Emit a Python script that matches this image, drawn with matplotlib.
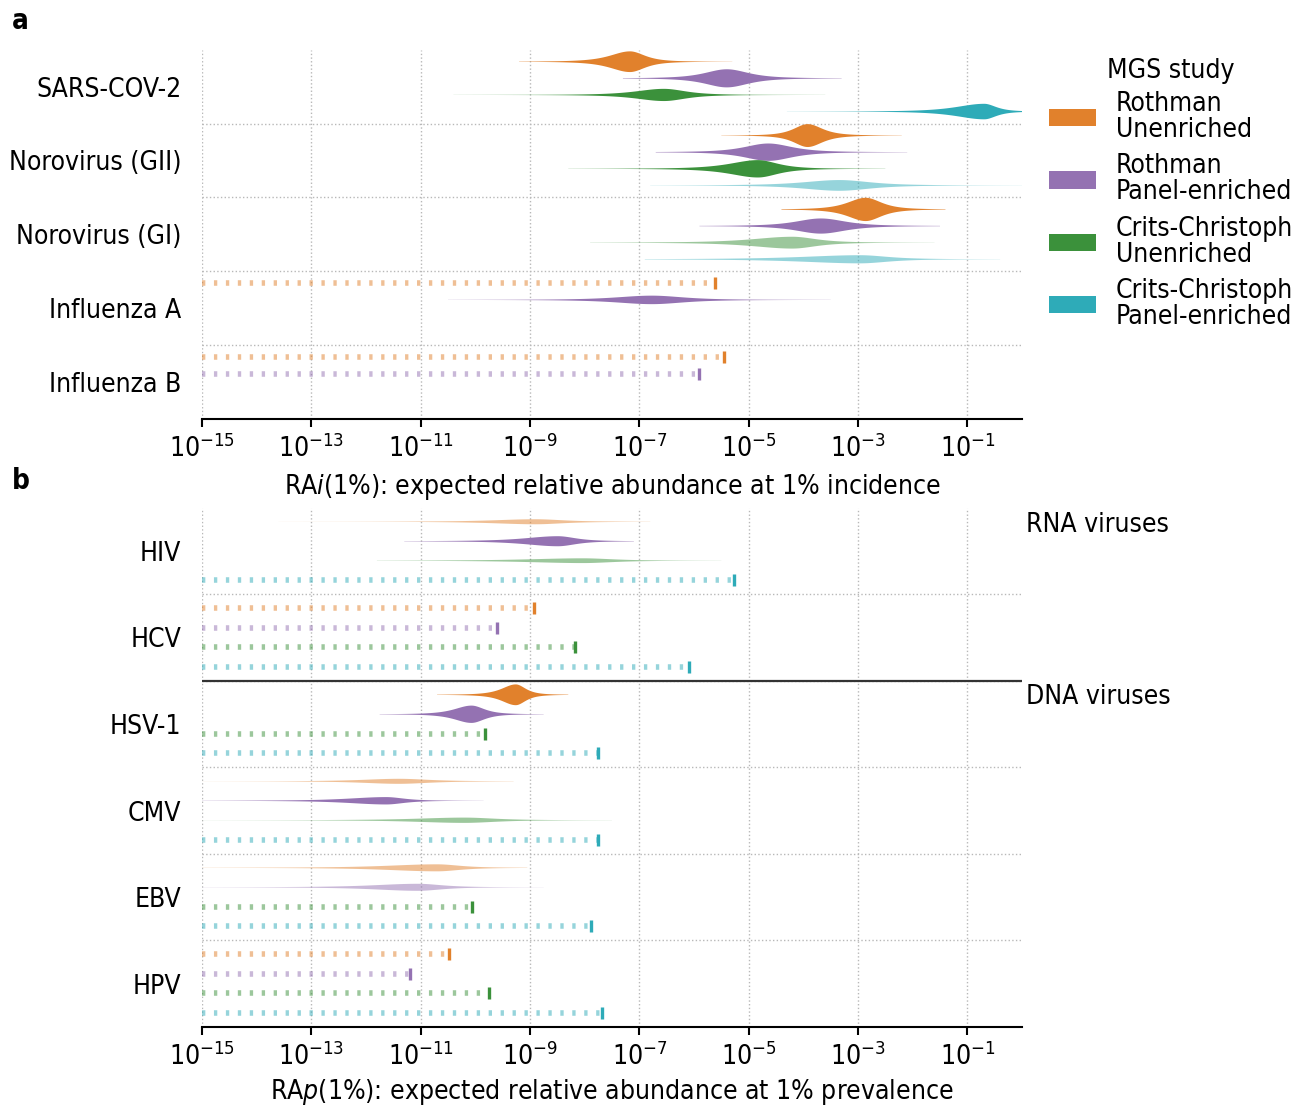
import numpy as np
import matplotlib
matplotlib.use('Agg')
import matplotlib.pyplot as plt
from matplotlib.patches import Patch

plt.rcParams['font.family'] = ['DejaVu Sans Condensed', 'DejaVu Sans']
plt.rcParams['font.stretch'] = 'condensed'
plt.rcParams['mathtext.fontset'] = 'custom'
plt.rcParams['mathtext.rm'] = 'DejaVu Sans Condensed'
plt.rcParams['mathtext.it'] = 'DejaVu Sans Condensed:italic'
plt.rcParams['mathtext.bf'] = 'DejaVu Sans Condensed:bold'
FS = 19

studies = ['Rothman\nUnenriched', 'Rothman\nPanel-enriched',
           'Crits-Christoph\nUnenriched', 'Crits-Christoph\nPanel-enriched']
study_colors = ['#e1812c', '#9472b2', '#3b913b', '#2eabb8']

# ---------------- panel a : RAi(1%) (log10 values) ----------------
a_viruses = ['SARS-COV-2', 'Norovirus (GII)', 'Norovirus (GI)', 'Influenza A', 'Influenza B']
a_vio_virus = [0, 0, 0, 0, 1, 1, 1, 1, 2, 2, 2, 2, 3]
a_vio_study = [0, 1, 2, 3, 0, 1, 2, 3, 0, 1, 2, 3, 1]
a_vio_mode = [-7.17, -5.40, -6.55, -0.69, -3.92, -4.64, -4.83, -3.34, -2.86, -3.68, -4.20, -2.96, -6.77]
a_vio_left = [1.0, 1.1, 1.4, 1.4, 0.7, 1.2, 1.4, 1.8, 0.9, 1.25, 2.0, 2.9, 1.8]
a_vio_right = [0.75, 1.1, 1.1, 0.6, 0.75, 1.2, 1.0, 1.55, 0.8, 1.25, 1.2, 1.4, 1.6]
a_vio_lo = [-9.2, -7.3, -10.4, -4.3, -5.5, -6.7, -8.3, -6.8, -4.4, -5.9, -7.9, -6.9, -10.5]
a_vio_hi = [-5.3, -3.3, -3.6, 0.5, -2.2, -2.1, -2.5, 0.0, -1.4, -1.5, -1.6, -0.4, -3.5]
a_vio_peak = [0.28, 0.245, 0.165, 0.21, 0.31, 0.235, 0.235, 0.145, 0.315, 0.205, 0.16, 0.11, 0.115]
a_vio_pale = [0, 0, 0, 0, 0, 0, 0, 1, 0, 0, 1, 1, 0]
a_ub_virus = [3, 4, 4]
a_ub_study = [0, 0, 1]
a_ub_value = [-5.62, -5.46, -5.90]

# ---------------- panel b : RAp(1%) (log10 values) ----------------
b_viruses = ['HIV', 'HCV', 'HSV-1', 'CMV', 'EBV', 'HPV']
b_vio_virus = [0, 0, 0, 2, 2, 3, 3, 3, 4, 4]
b_vio_study = [0, 1, 2, 0, 1, 0, 1, 2, 0, 1]
b_vio_mode = [-8.9, -8.49, -8.03, -9.26, -10.07, -11.4, -11.63, -10.2, -10.7, -11.05]
b_vio_left = [2.1, 1.65, 2.7, 0.7, 0.85, 1.8, 1.9, 2.4, 2.5, 2.2]
b_vio_right = [1.4, 0.9, 1.5, 0.5, 0.65, 1.5, 0.9, 1.55, 1.15, 1.2]
b_vio_lo = [-13.6, -11.3, -11.8, -10.7, -11.75, -15, -15, -15, -15, -15]
b_vio_hi = [-6.8, -7.1, -5.5, -8.3, -8.75, -9.3, -9.85, -7.5, -9.05, -8.75]
b_vio_peak = [0.058, 0.116, 0.055, 0.24, 0.20, 0.058, 0.085, 0.061, 0.081, 0.081]
b_vio_pale = [1, 0, 1, 0, 0, 1, 0, 1, 1, 1]
b_ub_virus = [0, 1, 1, 1, 1, 2, 2, 3, 4, 4, 5, 5, 5, 5]
b_ub_study = [3, 0, 1, 2, 3, 2, 3, 3, 2, 3, 0, 1, 2, 3]
b_ub_value = [-5.26, -8.93, -9.61, -8.17, -6.10, -9.83, -7.76, -7.76, -10.06, -7.88,
              -10.48, -11.20, -9.75, -7.69]

XMIN_EXP = -15
NU = 2.5
DODGE = 0.225


def slot_y(g, s):
    return g + (s - 1.5) * DODGE


def draw_violin(ax, y, mode, dl, dr, lo, hi, peak, color, alpha):
    z = np.linspace(lo, hi, 800)
    s = np.where(z < mode, dl, dr) / 2.6
    t = (z - mode) / s
    f = (1 + t ** 2 / NU) ** (-(NU + 1) / 2)
    hw = peak / 2 * f
    ax.fill_between(10.0 ** z, y - hw, y + hw, facecolor=color, alpha=alpha,
                    linewidth=0, zorder=3)


def draw_bound(ax, y, val, color):
    ax.plot([10.0 ** XMIN_EXP, 10.0 ** val], [y, y], color=color, alpha=0.5,
            lw=4.0, dashes=(0.6, 1.55), dash_capstyle='butt', zorder=3)
    ax.plot([10.0 ** val], [y], marker='|', ms=8.0, mew=2.4, color=color,
            linestyle='none', zorder=4)


def setup(ax, viruses, xlabel, labelpad):
    n = len(viruses)
    ax.set_xscale('log')
    ax.set_xlim(1e-15, 1)
    ax.set_ylim(n - 0.5, -0.5)
    ax.set_xticks([10.0 ** k for k in range(-15, 0, 2)])
    ax.xaxis.set_minor_locator(matplotlib.ticker.NullLocator())
    ax.set_yticks(range(n))
    ax.set_yticklabels(viruses, fontsize=FS)
    ax.tick_params(axis='y', length=0, pad=15)
    ax.tick_params(axis='x', length=6, width=1.5, labelsize=FS, pad=5)
    for sp in ['top', 'right', 'left']:
        ax.spines[sp].set_visible(False)
    ax.spines['bottom'].set_linewidth(1.5)
    ax.grid(axis='x', color='#b8b8b8', ls=':', lw=1.0, zorder=0)
    for k in range(n - 1):
        ax.axhline(k + 0.5, color='#b8b8b8', ls=':', lw=1.0, zorder=0)
    ax.set_xlabel(xlabel, fontsize=FS, labelpad=labelpad)


def draw_panel(ax, vv, vs, vm, vl, vr, vlo, vhi, vp, vpale, uv, us, uval):
    for i in range(len(vv)):
        draw_violin(ax, slot_y(vv[i], vs[i]), vm[i], vl[i], vr[i], vlo[i], vhi[i],
                    vp[i], study_colors[vs[i]], 0.5 if vpale[i] else 1.0)
    for i in range(len(uv)):
        draw_bound(ax, slot_y(uv[i], us[i]), uval[i], study_colors[us[i]])


fig = plt.figure(figsize=(12.93, 11.06), dpi=100)
L, W = 202 / 1293, 820 / 1293
ax_a = fig.add_axes([L, 1 - 419 / 1106, W, (419 - 49.7) / 1106])
ax_b = fig.add_axes([L, 1 - 1026.8 / 1106, W, (1026.8 - 507.7) / 1106])

setup(ax_a, a_viruses, r'RA$\mathit{i}$(1%): expected relative abundance at 1% incidence', 7)
draw_panel(ax_a, a_vio_virus, a_vio_study, a_vio_mode, a_vio_left, a_vio_right,
           a_vio_lo, a_vio_hi, a_vio_peak, a_vio_pale, a_ub_virus, a_ub_study, a_ub_value)

setup(ax_b, b_viruses, r'RA$\mathit{p}$(1%): expected relative abundance at 1% prevalence', 4.5)
draw_panel(ax_b, b_vio_virus, b_vio_study, b_vio_mode, b_vio_left, b_vio_right,
           b_vio_lo, b_vio_hi, b_vio_peak, b_vio_pale, b_ub_virus, b_ub_study, b_ub_value)

# RNA / DNA divider
ax_b.axhline(1.5, color='#333333', lw=1.6, zorder=5)
ax_b.text(1.005, -0.5 + 0.045, 'RNA viruses', transform=ax_b.get_yaxis_transform(),
          fontsize=FS, va='top', ha='left')
ax_b.text(1.005, 1.5 + 0.035, 'DNA viruses', transform=ax_b.get_yaxis_transform(),
          fontsize=FS, va='top', ha='left')

handles = [Patch(facecolor=c, edgecolor='none') for c in study_colors]
leg = fig.legend(handles, studies, title='MGS study', loc='upper left',
                 bbox_to_anchor=(1049 / 1293, 1 - 58 / 1106), frameon=False,
                 fontsize=FS, title_fontsize=FS, borderpad=0, borderaxespad=0,
                 handlelength=1.78, handleheight=0.63, handletextpad=0.76,
                 labelspacing=0.39)
for t in leg.get_texts():
    t.set_linespacing(1.0)
leg._legend_box.sep = 5

fig.text(12 / 1293, 1 - 7 / 1106, 'a', fontsize=20, fontweight='bold', va='top')
fig.text(12 / 1293, 1 - 467 / 1106, 'b', fontsize=20, fontweight='bold', va='top')

fig.savefig('out.png', dpi=100)
